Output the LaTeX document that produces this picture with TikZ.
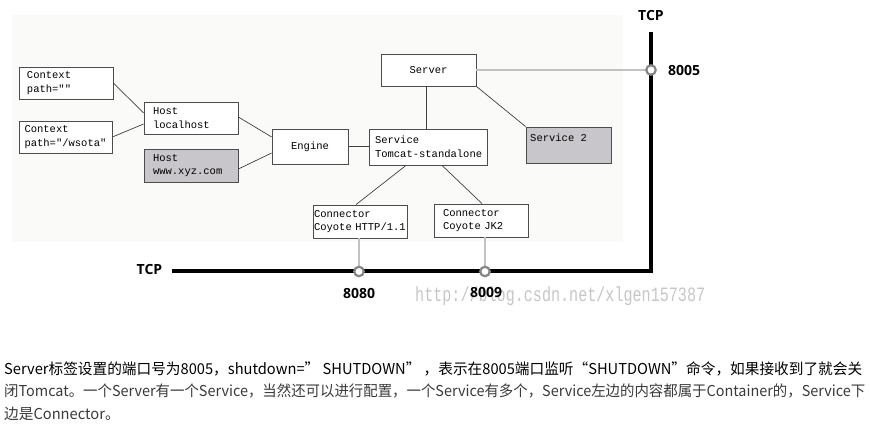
\documentclass[tikz,border=0pt]{standalone}
\usepackage{fontspec}
\newfontfamily\mono{Liberation Mono}
\newfontfamily\lab{Open Sans}
\newfontfamily\cjk{Noto Sans CJK SC}
\usetikzlibrary{calc}
\definecolor{bgc}{HTML}{FAFAF8}
\definecolor{boxfill}{HTML}{C8C6CA}
\definecolor{portgrey}{HTML}{C2C2C2}
\definecolor{ringc}{HTML}{858585}
\definecolor{txtc}{HTML}{3A3A3A}
\definecolor{wm}{HTML}{C6C6C6}
\newsavebox\parlineA
\begin{document}
\sbox\parlineA{\cjk\fontsize{15}{23}\selectfont Server标签设置的端口号为8005，shutdown=” SHUTDOWN” ，表示在8005端口监听“SHUTDOWN”命令，如果接收到了就会关}%
\pgfmathsetmacro\parfac{858/\wd\parlineA}%
\begin{tikzpicture}[x=1pt,y=-1pt,
  box/.style={draw=black!70, line width=0.8pt, fill=white, inner ysep=0pt,
    font=\mono\fontsize{10.5}{13.5}\selectfont, align=left},
  greybox/.style={box, fill=boxfill},
  link/.style={draw=black!75, line width=0.7pt},
  tcpline/.style={line width=4pt, black},
  portline/.style={line width=2.8pt, portgrey},
  port/.style={circle, draw=ringc, line width=2.2pt, fill=white, minimum size=9.5pt, inner sep=0pt},
  lbl/.style={font=\lab\bfseries\fontsize{14}{16}\selectfont, inner sep=0pt},
  para/.style={font=\cjk\fontsize{15}{23}\selectfont, text=txtc, anchor=base west, inner sep=0pt}
]
\useasboundingbox (0,0) rectangle (870,435);
\fill[bgc] (12,15) rectangle (623,242);

% boxes
\node[box, minimum width=94pt, minimum height=32pt, text width=78pt, inner xsep=8pt] (ctx1) at (66,83) {Context\\\hbox{path=""}};
\node[box, minimum width=93pt, minimum height=32pt, text width=82pt, inner xsep=5.5pt] (ctx2) at (65.5,137) {Context\\\hbox{path="/wsota"}};
\node[box, minimum width=94pt, minimum height=32pt, text width=76pt, inner xsep=9pt] (hostl) at (191,118) {Host\\localhost};
\node[greybox, minimum width=94pt, minimum height=33pt, text width=76pt, inner xsep=9pt] (hostx) at (191,165.5) {Host\\\hbox{www.xyz.com}};
\node[box, minimum width=76pt, minimum height=35pt, align=center] (engine) at (310,146.5) {Engine};
\node[box, minimum width=95pt, minimum height=32pt, align=center] (server) at (428.5,70) {Server};
\node[box, minimum width=118pt, minimum height=36pt, text width=106pt, inner xsep=6pt] (service) at (428,147) {Service\\\hbox{Tomcat-standalone}};
\node[greybox, minimum width=85pt, minimum height=36pt] (sv2) at (568.5,145) {};
\node[font=\mono\fontsize{10.5}{13.5}\selectfont, anchor=west, inner sep=0pt] (sv2t) at (530,138) {Service 2};
\node[box, minimum width=94pt, minimum height=33pt, text width=92pt, inner xsep=1pt] (conh) at (360,221.5) {Connector\\\hbox{Coyote HTTP/1.1}};
\node[box, minimum width=94pt, minimum height=33pt, text width=76pt, inner xsep=9pt] (conj) at (481,220.5) {Connector\\\hbox{Coyote JK2}};

% links
\draw[link] (ctx1.east) -- ([yshift=5pt]hostl.west);
\draw[link] (ctx2.east) -- ([yshift=-6pt]hostl.west);
\draw[link] ([yshift=1pt]hostl.east) -- ([yshift=9.5pt]engine.west);
\draw[link] ([yshift=-3.5pt]hostx.east) -- ([yshift=-6.5pt]engine.west);
\draw[link] (engine.east) -- (engine.east -| service.west);
\draw[link] ([xshift=-2.5pt]server.south) -- ([xshift=-2.5pt]server.south |- service.north);
\draw[link] (server.south east) -- (sv2.north west);
\draw[link] ([xshift=-22pt]service.south) -- ([xshift=-4pt]conh.north);
\draw[link] ([xshift=14pt]service.south) -- ([xshift=1pt]conj.north);

% TCP
\coordinate (tcpL) at (172,271.5);
\coordinate (corner) at (651,271.5);
\coordinate (tcpT) at (651,32);
\coordinate (p8005) at (651,70);
\coordinate (p8080) at (359,271.5);
\coordinate (p8009) at (485,271.5);
\draw[tcpline] (tcpL) -- (corner) -- (tcpT);
\draw[portline] (server.east) -- (p8005);
\draw[portline] (p8080 |- conh.south) -- (p8080);
\draw[portline] (p8009 |- conj.south) -- (p8009);
\node[port] (c8005) at (p8005) {};
\node[port] (c8080) at (p8080) {};
\node[port] (c8009) at (p8009) {};

% watermark
\node[anchor=base west, inner sep=0pt, text=wm, font=\mono\fontsize{15.1}{16}\selectfont] (wmk) at (415,302) {\scalebox{1}[1.35]{http://blog.csdn.net/xlgen157387}};

% labels
\node[lbl] (tcptop) at (651,16) {TCP};
\node[lbl] (l8005) at (684,70) {8005};
\node[lbl] (tcpleft) at (149.5,270) {TCP};
\node[lbl] (l8080) at (359,293) {8080};
\node[lbl] (l8009) at (486,292) {8009};

% paragraph
\node[para] (p1) at (4,374) {\scalebox{\parfac}[1]{\usebox\parlineA}};
\node[para] (p2) at (4,397) {\resizebox{861pt}{\height}{闭Tomcat。一个Server有一个Service，当然还可以进行配置，一个Service有多个，Service左边的内容都属于Container的，Service下}};
\node[para] (p3) at (4,420) {\scalebox{\parfac}[1]{边是Connector。}};
\end{tikzpicture}
\end{document}
